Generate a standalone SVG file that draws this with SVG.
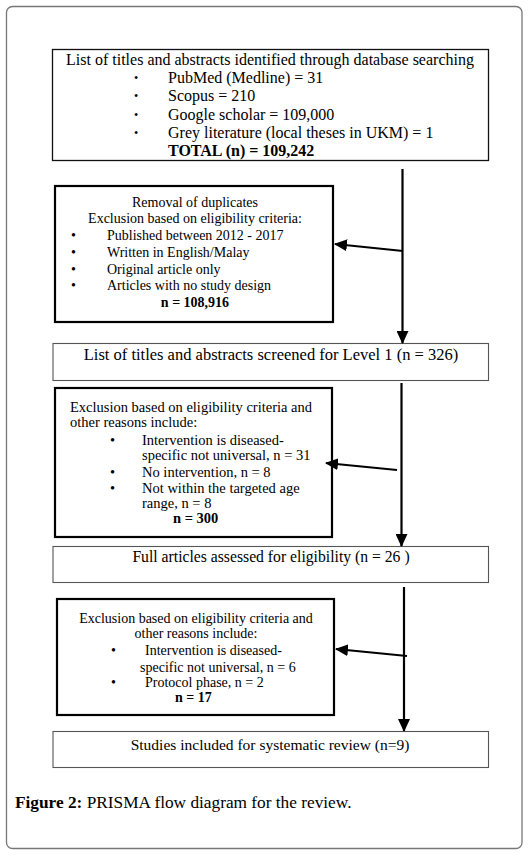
<svg xmlns="http://www.w3.org/2000/svg" width="528" height="856" viewBox="0 0 528 856">
<defs>
<style>
.t{font-family:"Liberation Serif","Times New Roman",serif;fill:#000}
.f16{font-size:16px}
.f14{font-size:14px}
.f145{font-size:14.5px}
.bul{font-size:12px}
.b{font-weight:bold}
.mid{text-anchor:middle}
.box{fill:#fff;stroke:#111;stroke-width:1.3}
.thick{fill:#fff;stroke:#000;stroke-width:2.2}
.thin{fill:#fff;stroke:#555;stroke-width:1.1}
.arr{stroke:#000;stroke-width:2.2;fill:none}
</style>
<marker id="ah" markerWidth="13" markerHeight="12" viewBox="0 0 13 12" refX="12" refY="6" orient="auto" markerUnits="userSpaceOnUse">
<path d="M0,0 L13,6 L0,12 Z" fill="#000"/>
</marker>
</defs>
<rect x="0" y="0" width="528" height="856" fill="#fff"/>
<rect id="frame" x="6.5" y="6.5" width="515.5" height="842" rx="6" fill="none" stroke="#777" stroke-width="1.3"/>

<g id="n1">
<rect class="box" x="52.5" y="49.5" width="436" height="111"/>
<text class="t f16 mid" x="270" y="65">List of titles and abstracts identified through database searching</text>
<text class="t bul" x="134" y="82">•</text><text class="t f16" x="168" y="83">PubMed (Medline) = 31</text>
<text class="t bul" x="134" y="100">•</text><text class="t f16" x="168" y="101">Scopus = 210</text>
<text class="t bul" x="134" y="119">•</text><text class="t f16" x="168" y="120">Google scholar = 109,000</text>
<text class="t bul" x="134" y="137">•</text><text class="t f16" x="168" y="138">Grey literature (local theses in UKM) = 1</text>
<text class="t f16 b" x="168" y="156">TOTAL (n) = 109,242</text>
</g>

<g id="n2">
<rect class="thick" x="55" y="186" width="278" height="136"/>
<text class="t f14 mid" x="195" y="207">Removal of duplicates</text>
<text class="t f14 mid" x="195" y="223">Exclusion based on eligibility criteria:</text>
<text class="t f14" x="71" y="240">•</text><text class="t f14" x="107" y="240">Published between 2012 - 2017</text>
<text class="t f14" x="71" y="257">•</text><text class="t f14" x="107" y="257">Written in English/Malay</text>
<text class="t f14" x="71" y="274">•</text><text class="t f14" x="107" y="274">Original article only</text>
<text class="t f14" x="71" y="290">•</text><text class="t f14" x="107" y="290">Articles with no study design</text>
<text class="t f14 b mid" x="195" y="307">n = 108,916</text>
</g>

<g id="n3">
<rect class="thin" x="53" y="343.5" width="435.5" height="37"/>
<text class="t mid" font-size="16.5" x="271" y="360">List of titles and abstracts screened for Level 1 (n = 326)</text>
</g>

<g id="n4">
<rect class="thick" x="55" y="388" width="277" height="149"/>
<text class="t f145" x="70" y="412">Exclusion based on eligibility criteria and</text>
<text class="t f145" x="70" y="427">other reasons include:</text>
<text class="t f145" x="110" y="445">•</text><text class="t f145" x="142" y="445">Intervention is diseased-</text>
<text class="t f145" x="142" y="460">specific not universal, n = 31</text>
<text class="t f145" x="110" y="477">•</text><text class="t f145" x="142" y="477">No intervention, n = 8</text>
<text class="t f145" x="110" y="493">•</text><text class="t f145" x="142" y="493">Not within the targeted age</text>
<text class="t f145" x="142" y="508">range, n = 8</text>
<text class="t f145 b" x="173" y="523">n = 300</text>
</g>

<g id="n5">
<rect class="thin" x="53" y="546.5" width="435.5" height="36"/>
<text class="t mid" font-size="15.7" x="271" y="562">Full articles assessed for eligibility (n = 26 )</text>
</g>

<g id="n6">
<rect class="thick" x="57" y="599" width="277" height="116"/>
<text class="t f14 mid" x="196" y="623">Exclusion based on eligibility criteria and</text>
<text class="t f14 mid" x="196" y="638">other reasons include:</text>
<text class="t f14" x="111" y="655">•</text><text class="t f14" x="145" y="655">Intervention is diseased-</text>
<text class="t f14" x="140" y="672">specific not universal, n = 6</text>
<text class="t f14" x="111" y="687">•</text><text class="t f14" x="145" y="687">Protocol phase, n = 2</text>
<text class="t f14 b" x="175" y="702">n = 17</text>
</g>

<g id="n7">
<rect class="thin" x="53" y="731.5" width="435.5" height="36"/>
<text class="t mid" font-size="15.5" x="270" y="750">Studies included for systematic review (n=9)</text>
</g>

<g id="connectors">
<line class="arr" x1="402.5" y1="169" x2="402.5" y2="343" marker-end="url(#ah)"/>
<line class="arr" x1="403" y1="251" x2="335" y2="244" marker-end="url(#ah)"/>
<line class="arr" x1="401.5" y1="383" x2="401.5" y2="546" marker-end="url(#ah)"/>
<line class="arr" x1="397" y1="470" x2="326" y2="463" marker-end="url(#ah)"/>
<line class="arr" x1="404" y1="587" x2="404" y2="731" marker-end="url(#ah)"/>
<line class="arr" x1="407" y1="656" x2="336" y2="649" marker-end="url(#ah)"/>
</g>

<text class="t" x="15" y="808" font-size="17.3"><tspan font-weight="bold">Figure 2:</tspan> PRISMA flow diagram for the review.</text>
</svg>
